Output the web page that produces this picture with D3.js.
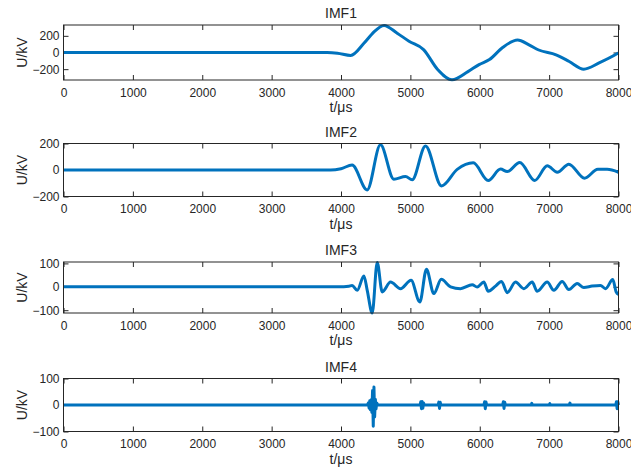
<!DOCTYPE html>
<html>
<head>
<meta charset="utf-8">
<script src="https://cdn.jsdelivr.net/npm/d3@7"></script>
<style>
  body { margin: 0; background: #fff; }
  svg text { font-family: "Liberation Sans", Arial, Helvetica, sans-serif; fill: #262626; }
</style>
</head>
<body>
<div id="chart"></div>
<script>
// values (t in µs, U in kV)
var xTicks = [0, 1000, 2000, 3000, 4000, 5000, 6000, 7000, 8000];

var imf1T = [0, 3800, 3950, 4140, 4330, 4450, 4480, 4620, 4810, 4980, 5190, 5390, 5600, 5830, 5990, 6140, 6330, 6545, 6710, 6850, 7100, 7290, 7500, 7720, 7990, 8000];
var imf1V = [0, 0, -8, -35, 110, 225, 250, 325, 232, 135, 35, -200, -328, -230, -145, -85, 60, 150, 92, 30, -28, -108, -200, -125, -10, -5];

var imf2T = [0, 3850, 4000, 4160, 4377, 4569, 4761, 4930, 5026, 5218, 5449, 5675, 5906, 6122, 6300, 6396, 6577, 6793, 6973, 7117, 7284, 7510, 7702, 7837, 8000];
var imf2V = [0, 0, 10, 37, -150, 190, -69, -49, -74, 182, -120, 5, 54, -79, 7, -12, 57, -79, 32, -17, 44, -62, 5, 5, -17];

var imf3T = [0, 4040, 4113, 4160, 4234, 4330, 4378, 4450, 4522, 4594, 4714, 4858, 5010, 5136, 5232, 5338, 5445, 5579, 5723, 5891, 5963, 6059, 6122, 6227, 6314, 6396, 6516, 6636, 6756, 6828, 6972, 7068, 7188, 7284, 7404, 7500, 7620, 7740, 7813, 7918, 7966, 8000];
var imf3V = [0, 0, 2, 6, -15, 46, -15, -112, 104, -22, 20, -8, 28, -65, 75, -29, 32, 0, -8, 9, -1, 20, -19, 3, 23, -25, 20, -8, 20, -19, 20, -15, 23, -12, 14, -3, 3, 6, -8, 31, -22, -33];

var imf4T = [0, 4380, 4395, 4405, 4415, 4425, 4435, 4445, 4455, 4465, 4475, 4485, 4495, 4505, 4515, 4530, 5140, 5150, 5160, 5170, 5180, 5190, 5200, 5400, 5410, 5420, 5430, 5440, 6060, 6070, 6080, 6090, 6100, 6330, 6340, 6350, 6360, 6370, 6740, 6750, 6760, 7000, 7010, 7020, 7290, 7300, 7310, 7960, 7970, 7980, 7990, 8000];
var imf4V = [0, 0, 8, -12, 16, -18, 20, -28, 55, -80, 68, -45, 22, -14, 8, 0, 0, 12, -14, 13, -12, 8, 0, 0, 11, -13, 10, 0, 0, 12, -14, 11, 0, 0, 12, -13, 10, 0, 0, 6, 0, 0, 5, 0, 0, 7, 0, 0, 12, -14, 12, 0];

var titles = ["IMF1", "IMF2", "IMF3", "IMF4"];
var yTicks1 = [-200, 0, 200];
var yTicks2 = [-200, 0, 200];
var yTicks3 = [-100, 0, 100];
var yTicks4 = [-100, 0, 100];

var W = 631, H = 468;
var left = 63.5, right = 618.5;

// layout of the 4 subplots
var panels = [
  { title: titles[0], t: imf1T, v: imf1V, dom: [-330, 330], ticks: yTicks1, top: 25, bottom: 80, curve: d3.curveMonotoneX },
  { title: titles[1], t: imf2T, v: imf2V, dom: [-200, 200], ticks: yTicks2, top: 143.5, bottom: 196.5, curve: d3.curveMonotoneX },
  { title: titles[2], t: imf3T, v: imf3V, dom: [-112, 106], ticks: yTicks3, top: 262, bottom: 313, curve: d3.curveMonotoneX },
  { title: titles[3], t: imf4T, v: imf4V, dom: [-100, 100], ticks: yTicks4, top: 378.5, bottom: 431.5, curve: d3.curveLinear }
];

var svg = d3.select("#chart").append("svg")
  .attr("width", W)
  .attr("height", H);

var x = d3.scaleLinear().domain([0, 8000]).range([left, right]);

panels.forEach(function (p) {
  var y = d3.scaleLinear().domain(p.dom).range([p.bottom, p.top]);
  var g = svg.append("g");

  // bottom axis with labels, ticks pointing inward
  var gx = g.append("g")
    .attr("transform", "translate(0," + p.bottom + ")")
    .call(d3.axisBottom(x).tickValues(xTicks).tickFormat(d3.format("d")).tickSizeInner(-5).tickSizeOuter(0).tickPadding(8));
  // top ticks
  var gxt = g.append("g")
    .attr("transform", "translate(0," + p.top + ")")
    .call(d3.axisTop(x).tickValues(xTicks).tickFormat("").tickSizeInner(-5).tickSizeOuter(0));
  // left axis
  var gy = g.append("g")
    .attr("transform", "translate(" + left + ",0)")
    .call(d3.axisLeft(y).tickValues(p.ticks).tickFormat(d3.format("d")).tickSizeInner(-5).tickSizeOuter(0).tickPadding(4));
  // right ticks
  var gyr = g.append("g")
    .attr("transform", "translate(" + right + ",0)")
    .call(d3.axisRight(y).tickValues(p.ticks).tickFormat("").tickSizeInner(-5).tickSizeOuter(0));

  [gx, gxt, gy, gyr].forEach(function (a) {
    a.select(".domain").remove();
    a.selectAll("line").attr("stroke", "#262626");
    a.selectAll("text").style("font-size", "12px").attr("fill", "#262626");
  });

  // data line
  var pts = p.t.map(function (t, i) { return [t, p.v[i]]; });
  g.append("path")
    .datum(pts)
    .attr("fill", "none")
    .attr("stroke", "#0072BD")
    .attr("stroke-width", 3)
    .attr("stroke-linejoin", "round")
    .attr("d", d3.line()
      .x(function (d) { return x(d[0]); })
      .y(function (d) { return y(d[1]); })
      .curve(p.curve));

  // frame
  g.append("rect")
    .attr("x", left)
    .attr("y", p.top)
    .attr("width", right - left)
    .attr("height", p.bottom - p.top)
    .attr("fill", "none")
    .attr("stroke", "#262626")
    .attr("stroke-width", 1);

  // title
  g.append("text")
    .attr("x", (left + right) / 2)
    .attr("y", p.top - 7)
    .attr("text-anchor", "middle")
    .style("font-size", "14px")
    .attr("fill", "#000")
    .text(p.title);

  // axis labels
  g.append("text")
    .attr("x", (left + right) / 2)
    .attr("y", p.bottom + 32)
    .attr("text-anchor", "middle")
    .style("font-size", "14px")
    .text("t/μs");

  g.append("text")
    .attr("transform", "translate(27," + ((p.top + p.bottom) / 2) + ") rotate(-90)")
    .attr("text-anchor", "middle")
    .style("font-size", "14px")
    .text("U/kV");
});
</script>
</body>
</html>
